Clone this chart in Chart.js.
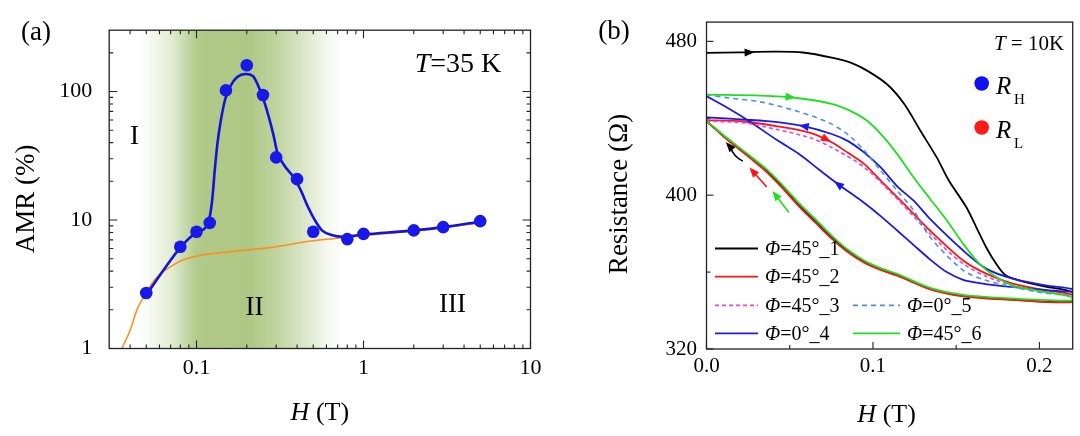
<!DOCTYPE html>
<html><head><meta charset="utf-8">
<script src="https://cdn.jsdelivr.net/npm/chart.js@4.4.1/dist/chart.umd.min.js"></script>
<style>
html,body{margin:0;padding:0;background:#fff;width:1080px;height:436px;overflow:hidden;}
#wa{position:absolute;left:0;top:0;width:600px;height:436px;}
#wb{position:absolute;left:540px;top:0;width:540px;height:436px;}
</style></head><body>
<div id="wa"><canvas id="ca"></canvas></div>
<div id="wb"><canvas id="cb"></canvas></div>
<script>
// ---------------- Panel (a) data ----------------
const amrFieldT   = [0.05,0.08,0.1,0.12,0.15,0.2,0.25,0.3,0.4,0.5,0.8,1,2,3,5];
const amrPercent  = [2.7,6.2,8.1,9.5,102,160,94,30.7,20.8,8.1,7.1,7.8,8.3,8.8,9.8];
const fitBlueField = [0.05,0.062,0.08,0.1,0.117,0.1239,0.1288,0.1338,0.1403,0.1485,0.1596,0.1753,0.1977,0.2175,0.239,0.263,0.2895,0.3037,0.334,0.385,0.424,0.4667,0.513,0.564,0.651,0.751,1,2,3,5];
const fitBlueAMR   = [2.6,3.9,6.1,8.0,9.4,14,25,40.5,61,87,110,129.5,137,132,104,72.5,45.4,34,26.8,21.2,16.7,12.5,9.9,8.3,7.6,7.4,7.7,8.3,8.8,9.7];
const fitOrangeField = [0.0357,0.040,0.0438,0.048,0.054,0.0604,0.0694,0.0834,0.105,0.166,0.275,0.5,0.787,1,2,3,5];
const fitOrangeAMR   = [1.0,1.38,1.97,2.5,3.2,3.8,4.3,4.9,5.3,5.7,6.1,6.9,7.3,7.55,8.2,8.7,9.5];
const aXTickValues = [0.1,1,10];
const aXTickLabels = ['0.1','1','10'];
const aYTickValues = [1,10,100];
const aYTickLabels = ['1','10','100'];
const regionBandField = [0.046,0.07,0.1,0.2,0.3,0.45,0.62,0.75];
const regionBandAlpha = [0,0.3,0.85,0.9,0.7,0.38,0.1,0];

// ---------------- Panel (b) data ----------------
const blackFwdH = [0,0.02,0.04,0.058,0.076,0.087,0.097,0.1088,0.1187,0.1285,0.1384,0.1453,0.1562,0.1621,0.168,0.174,0.1797,0.1898,0.2036,0.22];
const blackFwdR = [474.0,474.3,474.6,474.2,471.4,468.8,464.5,457.4,447.5,433.5,419.5,408,393.6,383.3,372.9,364.3,358.3,355.2,352.5,349.5];
const lowerH      = [0,0.006,0.012,0.02,0.028,0.0357,0.0455,0.0554,0.0653,0.0752,0.085,0.095,0.105,0.115,0.1344,0.1542,0.1839,0.22];
const lowerBlackR = [438.5,434,429.5,424,418.5,413,404.5,395,386.5,378,370.8,365.2,361.3,358.3,351.2,347.6,345.7,344.6];
const lowerRedR   = [438.5,433.8,429.2,423.6,418,412.4,403.8,394.3,385.8,377.4,370.3,364.8,361,358,351,347.4,345.5,344.4];
const lowerGreenR = [438.5,434.3,430,424.6,419.2,413.8,405.4,396,387.6,379,371.6,365.9,361.9,358.9,351.8,348.2,346.3,345.2];
const redFwdH = [0,0.0228,0.0426,0.0624,0.0752,0.085,0.095,0.1048,0.1147,0.1246,0.1344,0.1542,0.168,0.1839,0.2036,0.22];
const redFwdR = [439,438.3,435.8,432.4,427.5,422,416,407.4,398.8,390.2,381.5,366,359.2,354,350.5,348];
const magentaH = [0,0.0228,0.0426,0.0624,0.0752,0.095,0.1147,0.1344,0.1542,0.174,0.2,0.22];
const magentaR = [438.5,437.5,434.1,429.8,424.8,414.3,397.9,379.8,364.3,355.7,350.2,347.8];
const blueLowH = [0,0.0125,0.0248,0.0426,0.0554,0.0673,0.0791,0.095,0.1048,0.1147,0.1245,0.1344,0.1443,0.1542,0.164,0.174,0.1937,0.22];
const blueLowR = [451.5,445.5,439,428.5,421.5,413.5,405.7,395.8,389,381.5,374,366.5,360,356,354.3,353.1,351.4,349.8];
const blueUpH = [0,0.0228,0.0426,0.0584,0.0752,0.085,0.095,0.1048,0.1147,0.1246,0.1344,0.1542,0.168,0.1839,0.2036,0.22];
const blueUpR = [440.5,439.3,438,435.9,431.8,428.1,422,414.3,404.5,397,387.5,371.2,361.8,356.6,353.1,351.2];
const dashBlueH = [0,0.013,0.033,0.053,0.0722,0.085,0.095,0.1048,0.1147,0.1246,0.1344,0.1542,0.168,0.1797,0.2,0.22];
const dashBlueR = [452.3,450.6,448.4,444,438.2,431.5,423,412.6,402.2,391.9,378.1,360.9,355.7,353.1,349.5,347.6];
const greenFwdH = [0,0.0327,0.0554,0.0752,0.087,0.0969,0.1068,0.1147,0.1246,0.1344,0.1443,0.1542,0.164,0.174,0.1839,0.1976,0.22];
const greenFwdR = [452.3,451.8,450.4,447.5,443.6,438.4,429.8,421.2,409.1,398,387,374.7,364.3,357.4,353.1,350.5,347];
const seriesLabels = ['Φ=45°_1','Φ=45°_2','Φ=45°_3','Φ=0°_4','Φ=0°_5','Φ=45°_6'];
const stateMarkerH = [-0.0045,-0.0045];
const stateMarkerR = [452.2,439];
const stateLabels = ['H','L'];
const bXTickValues = [0,0.1,0.2];
const bXTickLabels = ['0.0','0.1','0.2'];
const bYTickValues = [320,400,480];
const bYTickLabels = ['320','400','480'];

// ---------------- helpers ----------------
const SERIF = '"Liberation Serif","Times New Roman",serif';
Chart.defaults.font.family = SERIF;
Chart.defaults.color = '#000';
Chart.defaults.animation = false;

const pts = (xs, ys) => xs.map((x, i) => ({x, y: ys[i]}));
const rev = a => a.slice().reverse();
function fontStr(p){ return (p.it ? 'italic ' : '') + p.size + 'px ' + SERIF; }
function drawRich(ctx, parts, x, y, align, baseline){
  ctx.textAlign = 'left'; ctx.textBaseline = baseline || 'middle';
  let w = 0;
  for (const p of parts){ ctx.font = fontStr(p); w += ctx.measureText(p.t).width; }
  let cx = align === 'center' ? x - w/2 : (align === 'right' ? x - w : x);
  for (const p of parts){ ctx.font = fontStr(p); ctx.fillText(p.t, cx, y + (p.dy || 0)); cx += ctx.measureText(p.t).width; }
}
function drawRotated(ctx, text, size, cx, cy){
  ctx.save(); ctx.translate(cx, cy); ctx.rotate(-Math.PI/2);
  ctx.font = size + 'px ' + SERIF; ctx.textAlign = 'center'; ctx.textBaseline = 'middle';
  ctx.fillText(text, 0, 0); ctx.restore();
}
function logMinor(min, max, majors){
  const out = [];
  for (let k = Math.floor(Math.log10(min)); k <= Math.ceil(Math.log10(max)); k++)
    for (let m = 1; m <= 9; m++){
      const v = m * Math.pow(10, k);
      if (v > min * 1.0001 && v < max * 0.9999 && !majors.some(t => Math.abs(t - v) / t < 1e-6)) out.push(v);
    }
  return out;
}
function arrowHead(ctx, x, y, ang, len, wid, color){
  ctx.save(); ctx.translate(x, y); ctx.rotate(ang);
  ctx.beginPath(); ctx.moveTo(len/2, 0); ctx.lineTo(-len/2, wid/2); ctx.lineTo(-len/2, -wid/2); ctx.closePath();
  ctx.fillStyle = color; ctx.fill(); ctx.restore();
}

// ---------------- Panel (a) chart ----------------
const panelA = {
  id: 'panelA',
  beforeDatasetsDraw(chart){
    const {ctx, chartArea: a, scales: {x}} = chart;
    const p0 = x.getPixelForValue(regionBandField[0]);
    const p1 = x.getPixelForValue(regionBandField[regionBandField.length - 1]);
    const g = ctx.createLinearGradient(p0, 0, p1, 0);
    regionBandField.forEach((v, i) => {
      g.addColorStop((x.getPixelForValue(v) - p0) / (p1 - p0), 'rgba(164,193,118,' + regionBandAlpha[i] + ')');
    });
    ctx.save(); ctx.fillStyle = g; ctx.fillRect(a.left, a.top, a.right - a.left, a.bottom - a.top); ctx.restore();
  },
  afterDraw(chart){
    const {ctx, chartArea: a, scales: {x, y}} = chart;
    ctx.save();
    ctx.strokeStyle = '#222'; ctx.lineWidth = 1.3;
    ctx.strokeRect(a.left, a.top, a.right - a.left, a.bottom - a.top);
    ctx.lineWidth = 1.1;
    const xt = (vals, len) => vals.forEach(v => { const p = x.getPixelForValue(v);
      ctx.beginPath(); ctx.moveTo(p, a.bottom); ctx.lineTo(p, a.bottom - len); ctx.moveTo(p, a.top); ctx.lineTo(p, a.top + len); ctx.stroke(); });
    const yt = (vals, len) => vals.forEach(v => { const p = y.getPixelForValue(v);
      ctx.beginPath(); ctx.moveTo(a.left, p); ctx.lineTo(a.left + len, p); ctx.moveTo(a.right, p); ctx.lineTo(a.right - len, p); ctx.stroke(); });
    xt(aXTickValues, 8); xt(logMinor(x.min, x.max, aXTickValues), 4);
    yt(aYTickValues, 8); yt(logMinor(y.min, y.max, aYTickValues), 4);
    ctx.fillStyle = '#000';
    drawRich(ctx, [{t:'(a)', size:27}], 36, 33, 'center');
    drawRich(ctx, [{t:'T', it:true, size:28}, {t:'=35 K', size:28}], 458, 65, 'center');
    drawRich(ctx, [{t:'I', size:27}], 134.5, 137, 'center');
    drawRich(ctx, [{t:'II', size:27}], 254.5, 307.5, 'center');
    drawRich(ctx, [{t:'III', size:27}], 452.5, 304.5, 'center');
    drawRich(ctx, [{t:'H', it:true, size:26}, {t:' (T)', size:26}], (a.left + a.right)/2, 413, 'center');
    drawRotated(ctx, 'AMR (%)', 27, 26.5, 199);
    ctx.restore();
  }
};

new Chart(document.getElementById('ca'), {
  type: 'line',
  data: { datasets: [
    { label: 'AMR data', data: pts(amrFieldT, amrPercent), showLine: false, pointRadius: 6.3, pointHoverRadius: 6.3,
      pointBackgroundColor: '#1818e8', pointBorderColor: '#1818e8', borderWidth: 0, order: 0 },
    { label: 'fit', data: pts(fitBlueField, fitBlueAMR), borderColor: '#1414d8', borderWidth: 2.6, pointRadius: 0,
      cubicInterpolationMode: 'monotone', fill: false, order: 1 },
    { label: 'background', data: pts(fitOrangeField, fitOrangeAMR), borderColor: '#f7921f', borderWidth: 1.6, pointRadius: 0,
      cubicInterpolationMode: 'monotone', fill: false, order: 2 }
  ]},
  options: {
    responsive: true, maintainAspectRatio: false, animation: false,
    layout: { padding: { left: 0, top: 26.7, right: 69.5, bottom: 0 } },
    plugins: { legend: { display: false }, tooltip: { enabled: false } },
    scales: {
      x: { type: 'logarithmic', min: 0.03, max: 10,
        grid: { display: false, drawTicks: false }, border: { display: false },
        afterBuildTicks: s => { s.ticks = aXTickValues.map(v => ({value: v})); },
        afterFit: s => { s.height = 87.5; },
        ticks: { autoSkip: false, maxRotation: 0, padding: 6.5, font: { size: 22 }, color: '#000',
          callback: (v, i) => aXTickLabels[i] } },
      y: { type: 'logarithmic', min: 1, max: 300,
        grid: { display: false, drawTicks: false }, border: { display: false },
        afterBuildTicks: s => { s.ticks = aYTickValues.map(v => ({value: v})); },
        afterFit: s => { s.width = 109.2; },
        ticks: { autoSkip: false, padding: 17, font: { size: 22 }, color: '#000',
          callback: (v, i) => aYTickLabels[i] } }
    }
  },
  plugins: [panelA]
});

// ---------------- Panel (b) chart ----------------
const curveArrows = [
  { color: '#000',    at: [0.0259, 474.2], toward: [0.035, 474.4] },
  { color: '#1ee01e', at: [0.0505, 451.0], toward: [0.060, 450.5] },
  { color: '#1a1ae6', at: [0.0584, 435.9], toward: [0.050, 437.2] },
  { color: '#ff1414', at: [0.0722, 429.0], toward: [0.080, 425.6] },
  { color: '#1a1ae6', at: [0.0791, 405.7], toward: [0.070, 411.6] }
];
const freeArrows = [
  { color: '#000',    from: [0.0218, 417.7], to: [0.012, 427.2], bend: 4 },
  { color: '#ff1414', from: [0.0362, 404.2], to: [0.0262, 414.0], bend: 0 },
  { color: '#1ee01e', from: [0.0495, 391.0], to: [0.0400, 401.8], bend: 0 }
];

const panelB = {
  id: 'panelB',
  afterDatasetsDraw(chart){
    const {ctx, scales: {x, y}} = chart;
    const P = d => [x.getPixelForValue(d[0]), y.getPixelForValue(d[1])];
    ctx.save();
    curveArrows.forEach(a => {
      const p = P(a.at), q = P(a.toward);
      arrowHead(ctx, p[0], p[1], Math.atan2(q[1]-p[1], q[0]-p[0]), 10, 8, a.color);
    });
    freeArrows.forEach(a => {
      const p = P(a.from), q = P(a.to);
      const ang = Math.atan2(q[1]-p[1], q[0]-p[0]);
      const ex = q[0] - Math.cos(ang)*6, ey = q[1] - Math.sin(ang)*6;
      const mx = (p[0]+ex)/2 + Math.sin(ang)*a.bend, my = (p[1]+ey)/2 - Math.cos(ang)*a.bend;
      ctx.beginPath(); ctx.moveTo(p[0], p[1]); ctx.quadraticCurveTo(mx, my, ex, ey);
      ctx.strokeStyle = a.color; ctx.lineWidth = 1.6; ctx.stroke();
      arrowHead(ctx, q[0] - Math.cos(ang)*4, q[1] - Math.sin(ang)*4, ang, 10, 8, a.color);
    });
    ctx.restore();
  },
  afterDraw(chart){
    const {ctx, chartArea: a, scales: {x, y}} = chart;
    ctx.save();
    ctx.strokeStyle = '#222'; ctx.lineWidth = 1.3;
    ctx.strokeRect(a.left, a.top, a.right - a.left, a.bottom - a.top);
    ctx.lineWidth = 1.1;
    const xt = (vals, len) => vals.forEach(v => { const p = x.getPixelForValue(v);
      ctx.beginPath(); ctx.moveTo(p, a.bottom); ctx.lineTo(p, a.bottom - len); ctx.stroke(); });
    const yt = (vals, len) => vals.forEach(v => { const p = y.getPixelForValue(v);
      ctx.beginPath(); ctx.moveTo(a.left, p); ctx.lineTo(a.left + len, p); ctx.stroke(); });
    xt(bXTickValues, 7); xt([0.05, 0.15], 4);
    yt(bYTickValues, 7); yt([360, 440], 4);

    // legend (two columns)
    const slots = [[0,0],[0,1],[0,2],[0,3],[1,2],[1,3]];
    const colX = [175, 313], colW = [43, 47], rowY = [248.5, 276.7, 305.3, 333.3];
    chart.data.datasets.filter(d => seriesLabels.includes(d.label)).forEach((d, i) => {
      const [c, r] = slots[i];
      ctx.beginPath(); ctx.setLineDash(d.borderDash || []);
      ctx.strokeStyle = d.borderColor; ctx.lineWidth = 1.8;
      ctx.moveTo(colX[c], rowY[r]); ctx.lineTo(colX[c] + colW[c], rowY[r]); ctx.stroke();
      ctx.setLineDash([]);
      ctx.fillStyle = '#000';
      drawRich(ctx, [{t: d.label.charAt(0), it: true, size: 20}, {t: d.label.slice(1), size: 20}],
        colX[c] + colW[c] + 7, rowY[r] + 1, 'left');
    });

    ctx.fillStyle = '#000';
    drawRich(ctx, [{t:'(b)', size:27}], 74, 32, 'center');
    drawRich(ctx, [{t:'T', it:true, size:21}, {t:' = 10K', size:21}], 489, 44, 'center');
    // R_H / R_L key
    const keyY = [83.5, 127.5], keyCol = ['#1010f0', '#ff1a1a'];
    stateLabels.forEach((s, i) => {
      ctx.beginPath(); ctx.arc(441.7, keyY[i], 7.3, 0, Math.PI*2); ctx.fillStyle = keyCol[i]; ctx.fill();
      ctx.fillStyle = '#000';
      drawRich(ctx, [{t:'R', it:true, size:25}], 456, keyY[i] + 10.5, 'left', 'alphabetic');
      drawRich(ctx, [{t:s, size:15}], 474, keyY[i] + 20, 'left', 'alphabetic');
    });
    drawRich(ctx, [{t:'H', it:true, size:26}, {t:' (T)', size:26}], (a.left + a.right)/2 - 3, 415, 'center');
    drawRotated(ctx, 'Resistance (Ω)', 27, 80, 194);
    ctx.restore();
  }
};

const lw = 1.8;
new Chart(document.getElementById('cb'), {
  type: 'line',
  data: { datasets: [
    { label: seriesLabels[0], data: pts(blackFwdH, blackFwdR).concat(pts(rev(lowerH), rev(lowerBlackR))),
      borderColor: '#000000', borderWidth: lw, pointRadius: 0, tension: 0.3, order: 6 },
    { label: seriesLabels[1], data: pts(redFwdH, redFwdR).concat(pts(rev(lowerH), rev(lowerRedR))),
      borderColor: '#ff1414', borderWidth: lw, pointRadius: 0, tension: 0.3, order: 5 },
    { label: seriesLabels[2], data: pts(magentaH, magentaR),
      borderColor: '#e646d2', borderWidth: 1.6, borderDash: [4, 3], pointRadius: 0, tension: 0.3, order: 3 },
    { label: seriesLabels[3], data: pts(blueLowH, blueLowR).concat(pts(rev(blueUpH), rev(blueUpR))),
      borderColor: '#1a1ae6', borderWidth: lw, pointRadius: 0, tension: 0.3, order: 4 },
    { label: seriesLabels[4], data: pts(dashBlueH, dashBlueR),
      borderColor: '#4a90e2', borderWidth: 1.6, borderDash: [5, 4], pointRadius: 0, tension: 0.3, order: 2 },
    { label: seriesLabels[5], data: pts(greenFwdH, greenFwdR).concat(pts(rev(lowerH), rev(lowerGreenR))),
      borderColor: '#1ee01e', borderWidth: lw, pointRadius: 0, tension: 0.3, order: 1 },
    { label: 'R states', data: pts(stateMarkerH, stateMarkerR), showLine: false, clip: false,
      pointRadius: 7.3, pointHoverRadius: 7.3, borderWidth: 0,
      pointBackgroundColor: ['#1010f0', '#ff1a1a'], pointBorderColor: ['#1010f0', '#ff1a1a'], order: 0 }
  ]},
  options: {
    responsive: true, maintainAspectRatio: false, animation: false,
    layout: { padding: { left: 0, top: 20.7, right: 4, bottom: 0 } },
    plugins: { legend: { display: false }, tooltip: { enabled: false } },
    scales: {
      x: { type: 'linear', min: 0, max: 0.22,
        grid: { display: false, drawTicks: false }, border: { display: false },
        afterBuildTicks: s => { s.ticks = bXTickValues.map(v => ({value: v})); },
        afterFit: s => { s.height = 87; },
        ticks: { autoSkip: false, maxRotation: 0, padding: 5, font: { size: 21 }, color: '#000',
          callback: (v, i) => bXTickLabels[i] } },
      y: { type: 'linear', min: 320, max: 490,
        grid: { display: false, drawTicks: false }, border: { display: false },
        afterBuildTicks: s => { s.ticks = bYTickValues.map(v => ({value: v})); },
        afterFit: s => { s.width = 166.5; },
        ticks: { autoSkip: false, padding: 9.5, font: { size: 21 }, color: '#000',
          callback: (v, i) => bYTickLabels[i] } }
    }
  },
  plugins: [panelB]
});
</script>
</body></html>
